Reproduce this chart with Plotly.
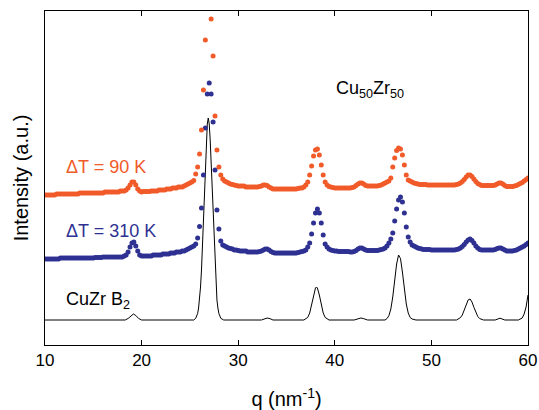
import numpy as np
import plotly.graph_objects as go

# q grid of the measured patterns (nm^-1)
q = np.round(np.linspace(10, 60, 251), 2)

# Delta T = 90 K pattern (orange), intensity in a.u.
i_dt90 = [
    150, 150, 150, 150, 150, 150, 151, 151, 151, 151,
    151, 151, 151, 151, 151, 151, 151, 151, 152, 152,
    152, 152, 152, 152, 152, 152, 152, 152, 152, 152,
    152, 153, 153, 153, 153, 153, 153, 153, 153, 154,
    154, 154, 155, 157, 160, 163, 163, 160, 156, 154,
    153, 153.5, 153.5, 153.5, 153.5, 154, 154, 154, 154, 155,
    155, 155, 155, 156, 156, 156, 157, 157, 157, 158,
    158, 158, 159, 160, 161, 162, 163, 164.5, 171, 178,
    191, 215, 255, 305, 338, 365, 326, 289, 229, 195,
    178, 170, 166, 164, 163, 162, 161, 160.5, 160, 159.5,
    159, 159, 159, 159, 158, 158, 158, 158, 158, 158,
    158, 158.5, 159, 160, 160, 159.5, 158, 157, 156, 156,
    156, 156, 156, 156, 156, 156, 156, 156, 156, 156,
    156, 156.5, 157, 157, 158, 160, 163, 170, 179, 189,
    195, 196, 190, 180, 170, 163, 160, 158.5, 158, 157.5,
    157, 157, 157, 157, 157, 157, 157, 157, 157, 157.5,
    158, 159.5, 161, 162, 162, 161, 159.5, 159, 159, 159,
    159, 159, 159, 159.5, 160, 161, 162, 163, 164, 167,
    178, 187, 194.5, 197, 196, 190, 180, 170, 165, 164,
    163, 162, 161.5, 161, 160.5, 160.5, 160.5, 160.5, 160, 160,
    160, 160, 160, 160, 160, 160, 160, 160, 160, 160,
    160, 160, 160, 160.5, 161, 162, 163.5, 165.5, 168, 170,
    170, 168.5, 166, 163.5, 161.5, 160.5, 159.5, 159.5, 159.5, 159.5,
    159.5, 159.5, 159.5, 160, 161, 162, 162, 161, 159.5, 158.5,
    158.5, 158.5, 158.5, 159, 159.5, 160.5, 161.5, 162.5, 164, 165.5,
    167,
]

# Delta T = 310 K pattern (blue)
i_dt310 = [
    86, 86, 86, 86, 86, 86, 86, 86, 87, 87,
    87, 87, 87, 87, 87, 87, 87, 87, 87, 87,
    87, 87, 87, 87, 87, 87, 87.5, 87.5, 87.5, 87.5,
    88, 88, 88, 88, 88, 88, 88, 88, 88, 88,
    88, 89, 90, 93, 98, 102, 103, 99, 94, 90,
    89, 89, 89, 89, 89, 89, 90, 90, 90, 90,
    90, 91, 91, 91, 91, 92, 92, 92, 93, 93,
    93, 94, 94, 95, 96, 97, 98, 99, 101, 107,
    118.5, 137, 170, 217, 251, 262, 251, 223, 175, 135,
    116, 104, 100, 99, 98, 97, 96.5, 96, 95, 95,
    94.5, 94, 94, 94, 94, 93, 93, 93, 93, 93,
    93, 93.5, 94, 95, 96, 96, 95, 93.5, 92.5, 92,
    92, 92, 92, 92, 92, 92, 92, 92, 92, 92,
    92, 92.5, 93, 93.5, 94, 95, 98, 102, 111, 122,
    132, 136, 132, 122, 110, 101, 98, 96, 95, 94.5,
    94, 94, 93.5, 93.5, 93.5, 93.5, 93.5, 93.5, 93, 93,
    93.5, 94.5, 96, 97, 97, 96, 95, 94.5, 94.5, 94.5,
    94.5, 94.5, 94.5, 95, 95.5, 96, 97, 99, 102, 106,
    112, 124, 136, 145, 148, 143, 132, 118, 108, 103,
    100, 99, 98, 97, 96.5, 96, 95.5, 95.5, 95.5, 95.5,
    95, 95, 95, 95, 95, 95, 95, 95, 95, 95,
    95, 95, 95, 95.5, 96, 97, 98.5, 100.5, 103, 105,
    106, 104.5, 102, 99, 97, 95.5, 95, 95, 95, 95,
    95, 95, 95, 95.5, 96.5, 97, 97, 96, 95, 94,
    94, 94, 94, 94.5, 95, 96, 97, 98, 99, 100.5,
    102,
]

# CuZr B2 reference pattern (black line)
q_b2 = [
    10, 18.3, 18.6, 18.9, 19.15, 19.4, 19.7, 20.0,
    25.4, 25.6, 25.8, 25.9, 26.0, 26.1, 26.2, 26.3, 26.4, 26.5, 26.6, 26.7,
    26.8, 26.9, 27.0, 27.1, 27.2, 27.3, 27.4, 27.5, 27.6, 27.7, 27.8, 27.9,
    28.0, 28.2, 28.5,
    32.4, 32.7, 33.0, 33.3, 33.6,
    36.8, 37.2, 37.4, 37.6, 37.8, 38.0, 38.1, 38.2, 38.4, 38.6, 38.8, 39.0, 39.4,
    42.0, 42.4, 42.7, 43.0, 43.4,
    45.2, 45.4, 45.6, 45.8, 46.0, 46.2, 46.4, 46.6, 46.8, 47.0, 47.2, 47.4,
    47.6, 47.8, 48.0, 48.4,
    52.6, 52.8, 53.0, 53.2, 53.4, 53.6, 53.8, 54.0, 54.2, 54.4, 54.6, 54.8,
    55.0, 55.4,
    56.6, 57.1, 57.6,
    59.0, 59.4, 59.6, 59.8, 60.0,
]
i_b2 = [
    25, 25, 26.5, 29.5, 31, 29.5, 26.5, 25,
    25, 26.7, 31.5, 37, 45, 58, 75, 98, 125, 153, 182, 205,
    221, 227, 221, 205, 182, 153, 125, 98, 75, 58, 45, 37,
    31.5, 26.7, 25,
    25, 26.3, 27, 26.3, 25,
    25, 27.6, 32, 40, 50, 57, 58, 57, 50, 40, 32, 27.6, 25,
    25, 26.3, 27, 26.3, 25,
    25, 26.4, 29.3, 36, 48, 64.5, 81, 90, 86.5, 73, 56, 41,
    32, 27.5, 26, 25,
    25, 25.8, 27.3, 30, 35, 40.5, 45, 46, 43, 37.7, 32.4, 28.5,
    26.4, 25,
    25, 26.8, 25,
    25, 27, 31, 38, 50,
]

x_ticks = [10, 20, 30, 40, 50, 60]

ORANGE = "#F15A29"
BLUE = "#2E3192"
FONT = "Arial, 'Liberation Sans', Helvetica, sans-serif"

fig = go.Figure()
fig.add_trace(go.Scatter(x=q_b2, y=i_b2, mode="lines",
                         line=dict(color="black", width=1), showlegend=False))
fig.add_trace(go.Scatter(x=q, y=i_dt310, mode="markers",
                         marker=dict(size=5, color=BLUE), showlegend=False))
fig.add_trace(go.Scatter(x=q, y=i_dt90, mode="markers",
                         marker=dict(size=5, color=ORANGE), showlegend=False))

fig.add_annotation(x=11.97, y=178, text="ΔT = 90 K", showarrow=False,
                   xanchor="left", yanchor="middle", font=dict(size=18, color=ORANGE))
fig.add_annotation(x=11.97, y=114, text="ΔT = 310 K", showarrow=False,
                   xanchor="left", yanchor="middle", font=dict(size=18, color=BLUE))
fig.add_annotation(x=11.97, y=45, text="CuZr B<sub>2</sub>", showarrow=False,
                   xanchor="left", yanchor="middle", font=dict(size=18, color="black"))
fig.add_annotation(x=39.92, y=256, text="Cu<sub>50</sub>Zr<sub>50</sub>", showarrow=False,
                   xanchor="left", yanchor="middle", font=dict(size=18, color="black"))

fig.update_layout(
    width=539, height=410,
    margin=dict(l=45, r=11, t=11, b=65),
    paper_bgcolor="white", plot_bgcolor="white",
    font=dict(family=FONT, color="black"),
    hovermode=False,
    xaxis=dict(range=[10, 60], tickvals=x_ticks, ticks="inside", ticklen=5,
               tickcolor="black", showline=True, linecolor="black", linewidth=1,
               mirror="ticks", showgrid=False, zeroline=False, automargin=False,
               tickfont=dict(size=17),
               title=dict(text="q (nm<sup>-1</sup>)", font=dict(size=20), standoff=24)),
    yaxis=dict(range=[0, 334], showticklabels=False, ticks="", showline=True,
               linecolor="black", linewidth=1, mirror=True, showgrid=False,
               zeroline=False, automargin=False,
               title=dict(text="Intensity (a.u.)", font=dict(size=20), standoff=10)),
)

fig.write_html("out.html", config={"displayModeBar": False},
               post_script="document.body.style.margin='0';document.body.style.padding='0';")
